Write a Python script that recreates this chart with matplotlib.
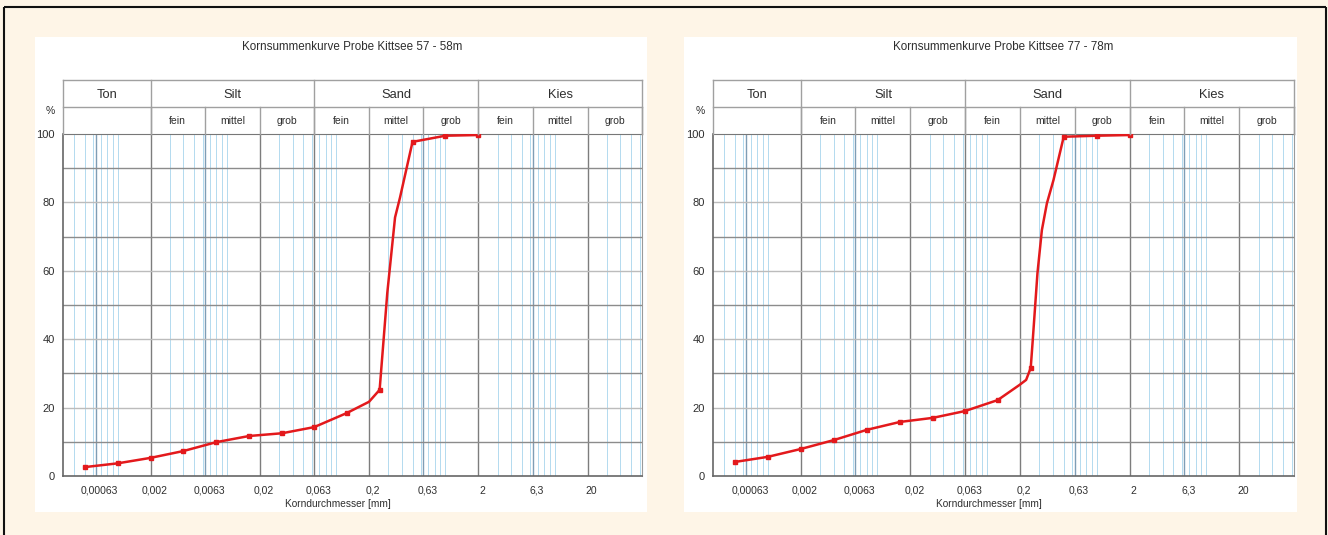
import matplotlib
matplotlib.use("Agg")
import matplotlib.pyplot as plt
import matplotlib.transforms as mtransforms
from matplotlib.lines import Line2D
from matplotlib.patches import Rectangle
import numpy as np

plt.rcParams['font.family'] = ['Liberation Sans', 'DejaVu Sans']

W, H = 1328, 535

# sieve diameters [mm] and passing [%]
sieve_d = [0.0005, 0.001, 0.002, 0.004, 0.008, 0.016, 0.032, 0.063, 0.125, 0.25, 0.5, 1, 2]
pass_57 = [2.6, 3.7, 5.3, 7.3, 9.9, 11.7, 12.5, 14.3, 18.4, 25.2, 97.7, 99.5, 99.7]
pass_77 = [4.1, 5.6, 7.9, 10.5, 13.5, 15.8, 17.0, 19.0, 22.2, 31.6, 99.2, 99.5, 99.7]

# drawn curve (incl. the bends between sieve points)
curve_d_57 = [0.0005, 0.001, 0.002, 0.004, 0.008, 0.016, 0.032, 0.063, 0.125, 0.2, 0.25,
              0.294, 0.346, 0.384, 0.5, 1, 2]
curve_p_57 = [2.6, 3.7, 5.3, 7.3, 9.9, 11.7, 12.5, 14.3, 18.4, 21.7, 25.2,
              53.6, 75.6, 81.4, 97.7, 99.5, 99.7]
curve_d_77 = [0.0005, 0.001, 0.002, 0.004, 0.008, 0.016, 0.032, 0.063, 0.125, 0.197, 0.227, 0.25,
              0.261, 0.288, 0.316, 0.351, 0.403, 0.5, 1, 2]
curve_p_77 = [4.1, 5.6, 7.9, 10.5, 13.5, 15.8, 17.0, 19.0, 22.2, 26.6, 28.1, 31.6,
              39.8, 59.3, 71.9, 79.7, 86.5, 99.2, 99.5, 99.7]

tick_vals = [0.00063, 0.002, 0.0063, 0.02, 0.063, 0.2, 0.63, 2, 6.3, 20]
tick_labels = ['0,00063', '0,002', '0,0063', '0,02', '0,063', '0,2', '0,63', '2', '6,3', '20']

groups = ['Ton', 'Silt', 'Sand', 'Kies']
subs = ['fein', 'mittel', 'grob'] * 3

XMIN, XMAX = 10 ** -3.5, 63
group_edges = [XMIN, 0.002, 0.063, 2, XMAX]
sub_edges = [0.002, 0.0063, 0.02, 0.063, 0.2, 0.63, 2, 6.3, 20, XMAX]

DARK = '#7d7d7d'
MID = '#7f9db5'
BLUE = '#b3daef'
RED = '#e3191c'
TXT = '#2e2e2e'


def add_px(fig, x0, y0, x1, y1):
    return fig.add_axes([x0 / W, 1 - y1 / H, (x1 - x0) / W, (y1 - y0) / H])


def draw_chart(fig, x0, x1, title, d_pts, p_pts, cd, cp):
    top, bot = 134, 476
    ax = add_px(fig, x0, top, x1, bot)
    ax.set_xscale('log')
    ax.set_xlim(XMIN, XMAX)
    ax.set_ylim(0, 100)
    ax.set_facecolor('white')

    # light blue minor grid
    for e in range(-4, 2):
        for k in [1, 3, 4, 5, 6, 7, 8, 9]:
            v = k * 10.0 ** e
            if XMIN < v < XMAX:
                ax.axvline(v, color=BLUE, lw=0.7, zorder=1)
    for v in [0.00063, 0.0063, 0.63, 6.3]:
        ax.axvline(v, color=MID, lw=1.0, zorder=1.5)
    for v in [0.002, 0.02, 0.063, 0.2, 2, 20]:
        ax.axvline(v, color=DARK, lw=1.0, zorder=2)
    for yv in [10, 30, 50, 70, 90]:
        ax.axhline(yv, color='#8c8c8c', lw=1.0, zorder=2)
    for yv in [20, 40, 60, 80]:
        ax.axhline(yv, color='#bcbcbc', lw=1.0, zorder=2)

    ax.plot(cd, cp, color=RED, lw=1.8, zorder=5, solid_joinstyle='round')
    ax.plot(d_pts, p_pts, ls='none', marker='s', ms=3.4, color=RED, zorder=6)

    for s in ['left', 'bottom']:
        ax.spines[s].set_color('#666666')
        ax.spines[s].set_linewidth(1.2)
    ax.spines['top'].set_color('#777777')
    ax.spines['right'].set_color('#9a9a9a')

    ax.set_xticks(tick_vals)
    ax.set_xticklabels(tick_labels)
    ax.xaxis.set_minor_locator(matplotlib.ticker.NullLocator())
    ax.set_yticks([0, 20, 40, 60, 80, 100])
    ax.tick_params(length=0, labelsize=7.5, labelcolor=TXT)
    ax.tick_params(axis='y', labelsize=8, pad=6)
    ax.tick_params(axis='x', pad=7)
    off = mtransforms.ScaledTranslation(4 / 100, 0, fig.dpi_scale_trans)
    for lab in ax.get_xticklabels():
        lab.set_transform(lab.get_transform() + off)

    # header table with the fractions
    hx = add_px(fig, x0, 80, x1, top)
    hx.set_xscale('log')
    hx.set_xlim(XMIN, XMAX)
    hx.set_ylim(0, 2)
    hx.axis('off')
    lc = '#a0a0a0'
    hx.plot([XMIN, XMAX], [2, 2], color=lc, lw=1.0, clip_on=False)
    hx.plot([XMIN, XMAX], [1, 1], color=lc, lw=1.0, clip_on=False)
    for v in group_edges:
        hx.plot([v, v], [0, 2], color=lc, lw=1.0, clip_on=False)
    for v in sub_edges:
        hx.plot([v, v], [0, 1], color=lc, lw=1.0, clip_on=False)
    for i, g in enumerate(groups):
        xc = np.sqrt(group_edges[i] * group_edges[i + 1])
        hx.text(xc, 1.45, g, ha='center', va='center', fontsize=9.3, color=TXT)
    for i, s in enumerate(subs):
        xc = np.sqrt(sub_edges[i] * sub_edges[i + 1])
        hx.text(xc, 0.48, s, ha='center', va='center', fontsize=7.5, color=TXT)

    xm = (x0 + x1) / 2
    fig.text(xm / W, 1 - 47 / H, title, ha='center', va='center', fontsize=8.4, color=TXT)
    fig.text((xm - 15) / W, 1 - 504 / H, 'Korndurchmesser [mm]', ha='center', va='center',
             fontsize=7.3, color=TXT)
    fig.text((x0 - 13) / W, 1 - 111 / H, '%', ha='center', va='center', fontsize=7.5, color=TXT)


fig = plt.figure(figsize=(W / 100, H / 100), dpi=100)
fig.patch.set_facecolor('#fef5e7')

# white panels
for px0, px1 in [(35, 647), (684, 1297)]:
    fig.patches.append(Rectangle((px0 / W, 1 - 512 / H), (px1 - px0) / W, (512 - 37) / H,
                                 transform=fig.transFigure, facecolor='white', edgecolor='none', zorder=-10))

# frame (top, left, right)
for xs, ys in [([4, 1326], [7, 7]), ([4, 4], [7, 535]), ([1326, 1326], [7, 535])]:
    fig.lines.append(Line2D([x / W for x in xs], [1 - y / H for y in ys], transform=fig.transFigure,
                            color='#111111', lw=1.5, zorder=-10, solid_capstyle='butt'))

draw_chart(fig, 63, 642, 'Kornsummenkurve Probe Kittsee 57 - 58m', sieve_d, pass_57, curve_d_57, curve_p_57)
draw_chart(fig, 713, 1294, 'Kornsummenkurve Probe Kittsee 77 - 78m', sieve_d, pass_77, curve_d_77, curve_p_77)

fig.savefig('out.png', dpi=100, facecolor=fig.get_facecolor())
